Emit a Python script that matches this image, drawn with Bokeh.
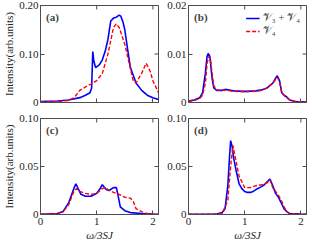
import math
from bokeh.plotting import figure
from bokeh.layouts import column, row
from bokeh.models import FixedTicker, Label, Range1d, Legend, LegendItem
from bokeh.embed import file_html
from bokeh.resources import INLINE

# ---- data ----
a_x_blue = [0, 0.3, 0.5, 0.7, 0.8, 0.88, 0.91, 0.93, 0.95, 0.98, 1.05, 1.1, 1.15, 1.2, 1.25, 1.3, 1.35, 1.4, 1.43, 1.47, 1.5, 1.55, 1.6, 1.7, 1.8, 1.9, 2.0, 2.1]
a_y_blue = [0.002, 0.003, 0.005, 0.01, 0.015, 0.02, 0.03, 0.105, 0.085, 0.072, 0.078, 0.088, 0.105, 0.13, 0.168, 0.174, 0.176, 0.18, 0.178, 0.165, 0.15, 0.11, 0.072, 0.04, 0.025, 0.015, 0.01, 0.006]
a_x_red = [0, 0.3, 0.5, 0.6, 0.7, 0.8, 0.9, 1.0, 1.1, 1.2, 1.3, 1.35, 1.4, 1.5, 1.6, 1.65, 1.7, 1.8, 1.88, 1.95, 2.0, 2.1]
a_y_red = [0.001, 0.002, 0.004, 0.01, 0.025, 0.032, 0.038, 0.045, 0.06, 0.1, 0.155, 0.162, 0.155, 0.12, 0.07, 0.045, 0.04, 0.06, 0.081, 0.065, 0.045, 0.02]

b_x_blue = [0, 0.1, 0.2, 0.25, 0.3, 0.33, 0.35, 0.38, 0.42, 0.45, 0.5, 0.6, 0.65, 0.7, 0.8, 1.0, 1.2, 1.3, 1.4, 1.5, 1.55, 1.58, 1.62, 1.66, 1.7, 1.73, 1.76, 1.8, 1.9, 2.1]
b_y_blue = [0.0003, 0.0005, 0.001, 0.002, 0.006, 0.0095, 0.0101, 0.0095, 0.005, 0.003, 0.0025, 0.0025, 0.0027, 0.0026, 0.0024, 0.0023, 0.0024, 0.0026, 0.003, 0.004, 0.005, 0.0055, 0.0045, 0.002, 0.0015, 0.0013, 0.001, 0.0005, 0.0002, 0.0001]
b_x_red = [0, 0.1, 0.2, 0.25, 0.3, 0.33, 0.36, 0.39, 0.42, 0.45, 0.5, 0.6, 0.65, 0.7, 0.8, 1.0, 1.2, 1.3, 1.4, 1.5, 1.55, 1.58, 1.62, 1.66, 1.7, 1.73, 1.76, 1.8, 1.9, 2.1]
b_y_red = [0.0002, 0.0004, 0.0008, 0.0015, 0.004, 0.008, 0.0095, 0.009, 0.006, 0.0035, 0.0026, 0.0025, 0.0026, 0.0025, 0.0023, 0.0022, 0.0023, 0.0025, 0.003, 0.004, 0.0048, 0.0052, 0.0043, 0.002, 0.0015, 0.0012, 0.0009, 0.0005, 0.0002, 0.0001]

c_x_blue = [0, 0.3, 0.4, 0.5, 0.55, 0.6, 0.63, 0.67, 0.72, 0.8, 0.9, 1.0, 1.05, 1.1, 1.17, 1.22, 1.3, 1.35, 1.38, 1.42, 1.5, 1.6, 1.8, 2.0, 2.1]
c_y_blue = [0.0003, 0.001, 0.003, 0.012, 0.02, 0.028, 0.032, 0.027, 0.021, 0.019, 0.019, 0.022, 0.026, 0.031, 0.026, 0.025, 0.028, 0.028, 0.02, 0.008, 0.004, 0.002, 0.001, 0.0005, 0.0003]
c_x_red = [0, 0.3, 0.4, 0.5, 0.6, 0.65, 0.7, 0.8, 0.9, 1.0, 1.1, 1.15, 1.2, 1.3, 1.4, 1.5, 1.6, 1.65, 1.7, 1.8, 1.9, 2.0, 2.1]
c_y_red = [0.0003, 0.001, 0.003, 0.01, 0.025, 0.027, 0.024, 0.022, 0.021, 0.022, 0.027, 0.028, 0.026, 0.023, 0.021, 0.018, 0.017, 0.014, 0.006, 0.003, 0.001, 0.0005, 0.0003]

d_x_blue = [0, 0.5, 0.6, 0.65, 0.7, 0.73, 0.75, 0.78, 0.8, 0.85, 0.9, 0.95, 1.0, 1.05, 1.1, 1.15, 1.2, 1.3, 1.35, 1.4, 1.45, 1.5, 1.55, 1.6, 1.65, 1.7, 1.75, 1.8, 2.0, 2.1]
d_y_blue = [0.0003, 0.0005, 0.002, 0.006, 0.03, 0.06, 0.077, 0.07, 0.06, 0.045, 0.032, 0.027, 0.024, 0.023, 0.023, 0.024, 0.026, 0.029, 0.031, 0.034, 0.037, 0.03, 0.022, 0.018, 0.012, 0.006, 0.003, 0.001, 0.0005, 0.0003]
d_x_red = [0, 0.5, 0.6, 0.7, 0.75, 0.79, 0.82, 0.9, 1.0, 1.1, 1.2, 1.3, 1.4, 1.45, 1.5, 1.55, 1.6, 1.65, 1.7, 1.75, 1.8, 2.0, 2.1]
d_y_red = [0.0003, 0.0005, 0.001, 0.015, 0.05, 0.072, 0.063, 0.04, 0.028, 0.028, 0.03, 0.031, 0.033, 0.036, 0.028, 0.024, 0.02, 0.015, 0.008, 0.003, 0.001, 0.0003, 0.0002]

x_ticks = [0, 1, 2]
x_tick_labels = ["0", "1", "2"]
a_ticks = [0, 0.1, 0.2]
a_tick_labels = ["0", "0.10", "0.20"]
b_ticks = [0, 0.01, 0.02]
b_tick_labels = ["0", "0.01", "0.02"]
cd_ticks = [0, 0.05, 0.1]
cd_tick_labels = ["0", "0.05", "0.10"]

panel_names = ["(a)", "(b)", "(c)", "(d)"]
legend_labels = ["\U0001D4B1\u2083 + \U0001D4B1\u2084", "\U0001D4B1\u2084"]
y_label = "Intensity(arb.units)"
x_label = "\u03c9/3SJ"

SERIF = "Liberation Serif"
AXC = "#4d4d4d"
XMAX = 2.1


def make(xb, yb, xr, yr, yticks, ylabels, ymax, name, left, bottom, legend=False):
    w = 164 if left else 146
    h = 133 if bottom else 110
    p = figure(width=w, height=h, output_backend="svg", toolbar_location=None,
               x_range=Range1d(0, XMAX), y_range=Range1d(0, ymax),
               min_border_left=39 if left else 24, min_border_right=6 if left else 4,
               min_border_top=8 if bottom else 5, min_border_bottom=29 if bottom else 8)
    p.grid.visible = False
    p.outline_line_color = AXC
    p.outline_line_width = 1
    rb = p.line(xb, yb, color="#0000ff", line_width=1.6)
    rr = p.line(xr, yr, color="#ff0000", line_width=1.4, line_dash="4 2")

    xa = p.xaxis[0]
    xa.ticker = FixedTicker(ticks=x_ticks)
    xa.major_label_overrides = {t: l for t, l in zip(x_ticks, x_tick_labels)}
    ya = p.yaxis[0]
    ya.ticker = FixedTicker(ticks=yticks)
    ya.major_label_overrides = {t: l for t, l in zip(yticks, ylabels)}
    for ax in (xa, ya):
        ax.major_tick_in = 4
        ax.major_tick_out = 0
        ax.minor_tick_line_color = None
        ax.axis_line_color = AXC
        ax.major_tick_line_color = AXC
        ax.major_label_text_font = SERIF
        ax.major_label_text_font_size = "11px"
        ax.major_label_text_color = "#262626"
        ax.major_label_standoff = 2
        ax.axis_label_text_font = SERIF
        ax.axis_label_text_font_size = "11px"
        ax.axis_label_text_font_style = "normal"
        ax.axis_label_text_color = "#262626"
        ax.axis_label_standoff = 1
    if not bottom:
        # top row: ticks only, labels not drawn
        xa.major_label_text_color = None
        xa.major_label_text_font_size = "4px"
        xa.major_label_standoff = 0
    else:
        xa.axis_label = x_label
        xa.axis_label_text_font_style = "italic"
        xa.major_label_standoff = 3
    if left:
        ya.axis_label = y_label

    # mirrored inward ticks on top and right edges
    p.ray(x=x_ticks, y=[ymax] * len(x_ticks), length=4, length_units="screen",
          angle=-math.pi / 2, line_color=AXC, line_width=1)
    p.ray(x=[XMAX] * len(yticks), y=yticks, length=4, length_units="screen",
          angle=math.pi, line_color=AXC, line_width=1)

    p.add_layout(Label(x=0.1, y=ymax * 0.94, text=name, text_font=SERIF,
                       text_font_style="bold", text_font_size="11px", text_baseline="top"))
    if legend:
        lg = Legend(items=[LegendItem(label=legend_labels[0], renderers=[rb]),
                           LegendItem(label=legend_labels[1], renderers=[rr])],
                    location="top_right", border_line_alpha=0, background_fill_alpha=0,
                    label_text_font=SERIF, label_text_font_size="11px",
                    glyph_width=14, glyph_height=10, label_height=12, spacing=0,
                    padding=3, margin=3, label_standoff=3)
        p.add_layout(lg)
    return p


pa = make(a_x_blue, a_y_blue, a_x_red, a_y_red, a_ticks, a_tick_labels, 0.2, panel_names[0], True, False)
pb = make(b_x_blue, b_y_blue, b_x_red, b_y_red, b_ticks, b_tick_labels, 0.02, panel_names[1], False, False, legend=True)
pc = make(c_x_blue, c_y_blue, c_x_red, c_y_red, cd_ticks, cd_tick_labels, 0.1, panel_names[2], True, True)
pd = make(d_x_blue, d_y_blue, d_x_red, d_y_red, cd_ticks, cd_tick_labels, 0.1, panel_names[3], False, True)

layout = column(row(pa, pb), row(pc, pd))
open("out.html", "w").write(file_html(layout, INLINE))
